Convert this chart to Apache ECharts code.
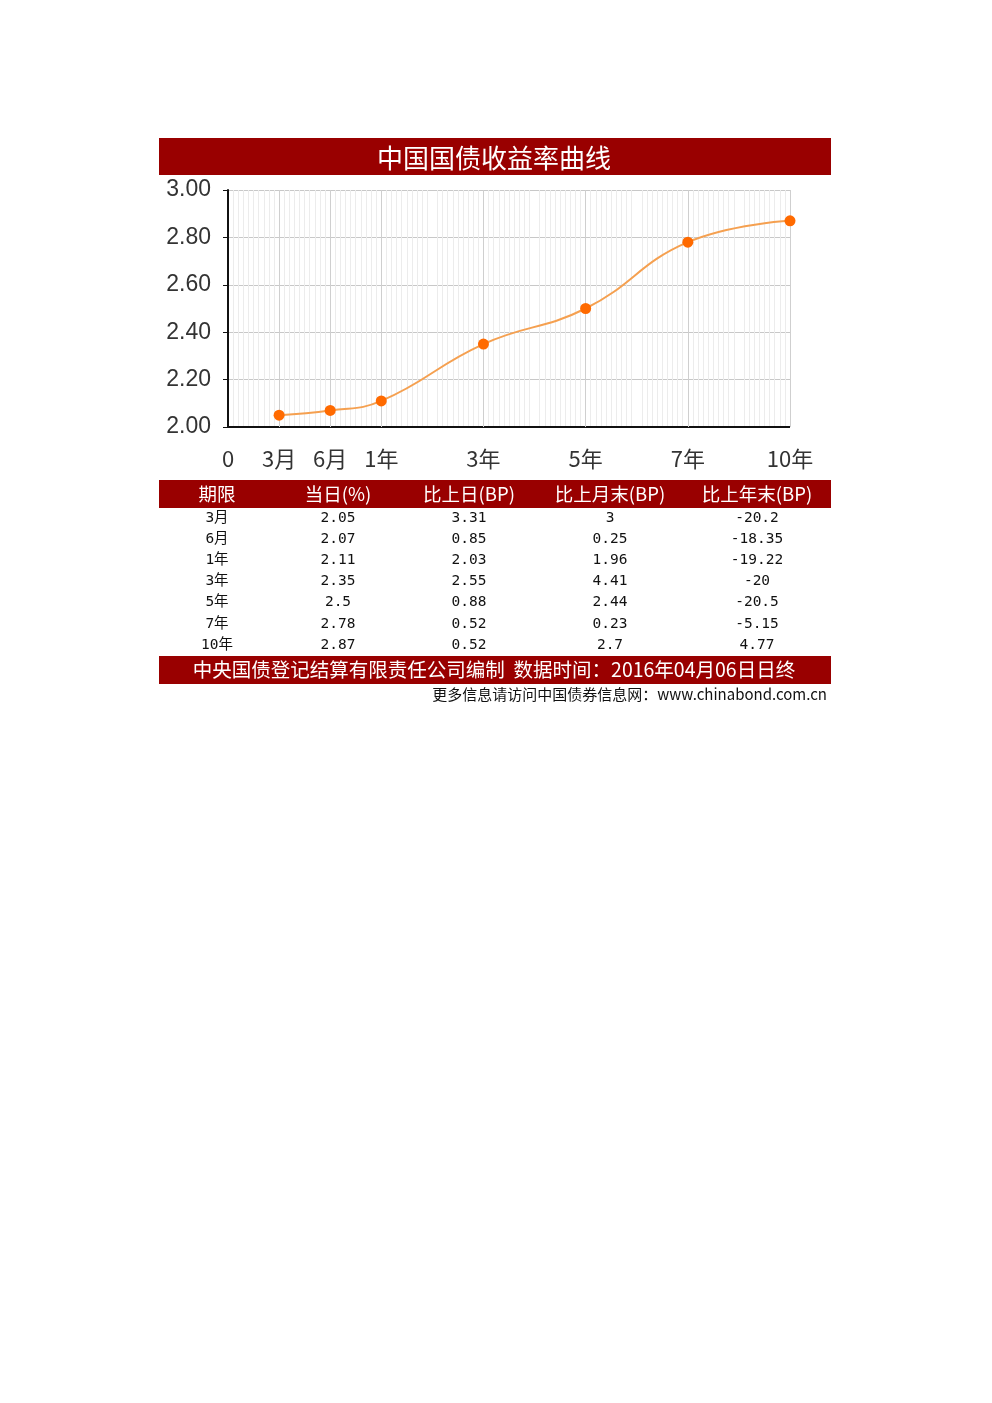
<!DOCTYPE html>
<html><head><meta charset="utf-8">
<script src="https://cdn.jsdelivr.net/npm/echarts@6/dist/echarts.min.js"></script>
<style>html,body{margin:0;padding:0;background:#fff}#c{width:992px;height:1403px}</style>
</head><body><div id="c"></div>
<script>
const title = '中国国债收益率曲线';
const tenors = ['3月','6月','1年','3年','5年','7年','10年'];
const tenorPos = [1,2,3,5,7,9,11];
const yields = [2.05,2.07,2.11,2.35,2.5,2.78,2.87];
const chgDay = ['3.31','0.85','2.03','2.55','0.88','0.52','0.52'];
const chgMonth = ['3','0.25','1.96','4.41','2.44','0.23','2.7'];
const chgYear = ['-20.2','-18.35','-19.22','-20','-20.5','-5.15','4.77'];
const yieldText = ['2.05','2.07','2.11','2.35','2.5','2.78','2.87'];
const headers = ['期限','当日(%)','比上日(BP)','比上月末(BP)','比上年末(BP)'];
const footer = '中央国债登记结算有限责任公司编制  数据时间：2016年04月06日日终';
const source = '更多信息请访问中国债券信息网：www.chinabond.com.cn';

const posLabel = {0:'0'};
tenorPos.forEach((p,i)=>posLabel[p]=tenors[i]);
const colX = [217,338,469,610,757];
const rowY = [518,539,560,581,602,624,645];
const cols = [tenors, yieldText, chgDay, chgMonth, chgYear];
const CJK = '"Noto Sans CJK SC","DejaVu Sans",sans-serif';
const graphics = [
  {type:'rect',shape:{x:159,y:138,width:672,height:37},style:{fill:'#990000'}},
  {type:'text',x:494,y:158,style:{text:title,fill:'#fff',font:'26px '+CJK,align:'center',verticalAlign:'middle'}},
  {type:'rect',shape:{x:159,y:480,width:672,height:28},style:{fill:'#990000'}},
  {type:'rect',shape:{x:159,y:656,width:672,height:28},style:{fill:'#990000'}},
  {type:'text',x:494,y:670,style:{text:footer,fill:'#fff',font:'19.5px '+CJK,align:'center',verticalAlign:'middle'}},
  {type:'text',x:827,y:694,style:{text:source,fill:'#111',font:'15px '+CJK,align:'right',verticalAlign:'middle'}}
];
headers.forEach((h,i)=>graphics.push({type:'text',x:colX[i],y:494,style:{text:h,fill:'#fff',font:'18.5px '+CJK,align:'center',verticalAlign:'middle'}}));
cols.forEach((col,ci)=>col.forEach((t,ri)=>graphics.push({type:'text',x:colX[ci],y:rowY[ri],style:{text:t,fill:'#111',font:'14.5px "DejaVu Sans Mono","Noto Sans CJK SC",monospace',align:'center',verticalAlign:'middle'}})));

const chart = echarts.init(document.getElementById('c'));
chart.setOption({
  animation:false,
  grid:{left:228,right:202,top:190,bottom:976,containLabel:false},
  xAxis:{type:'value',min:0,max:11,interval:1,
    axisLine:{show:false},axisTick:{show:false},
    axisLabel:{margin:21,fontSize:22,color:'#333',fontFamily:CJK,formatter:v=>posLabel[v]||''},
    splitLine:{show:false},
    minorTick:{show:false,splitNumber:10},
    minorSplitLine:{show:true,lineStyle:{color:'#ececec',width:1}}},
  yAxis:{type:'value',min:2,max:3,interval:0.2,
    axisLine:{show:true,lineStyle:{color:'#111',width:2}},
    axisTick:{show:true,length:5,lineStyle:{color:'#111'}},
    axisLabel:{fontSize:23,color:'#333',fontFamily:'"Liberation Sans",Arial,sans-serif',margin:17,formatter:v=>v.toFixed(2)},
    splitLine:{show:true,lineStyle:{color:'#c8c8c8'}}},
  graphic:graphics,
  series:[{type:'line',smooth:0.45,data:tenorPos.map((p,i)=>[p,yields[i]]),
    symbol:'circle',symbolSize:11,itemStyle:{color:'#ff6a00'},
    lineStyle:{color:'#f5a050',width:2},
    markLine:{silent:true,symbol:'none',label:{show:false},lineStyle:{color:'#cfcfcf',type:'solid',width:1},
      data:tenorPos.map(p=>({xAxis:p}))},
    z:5},
   {type:'line',data:[[0,2],[11,2]],symbol:'none',lineStyle:{color:'#111',width:2},silent:true}]
});
</script></body></html>
